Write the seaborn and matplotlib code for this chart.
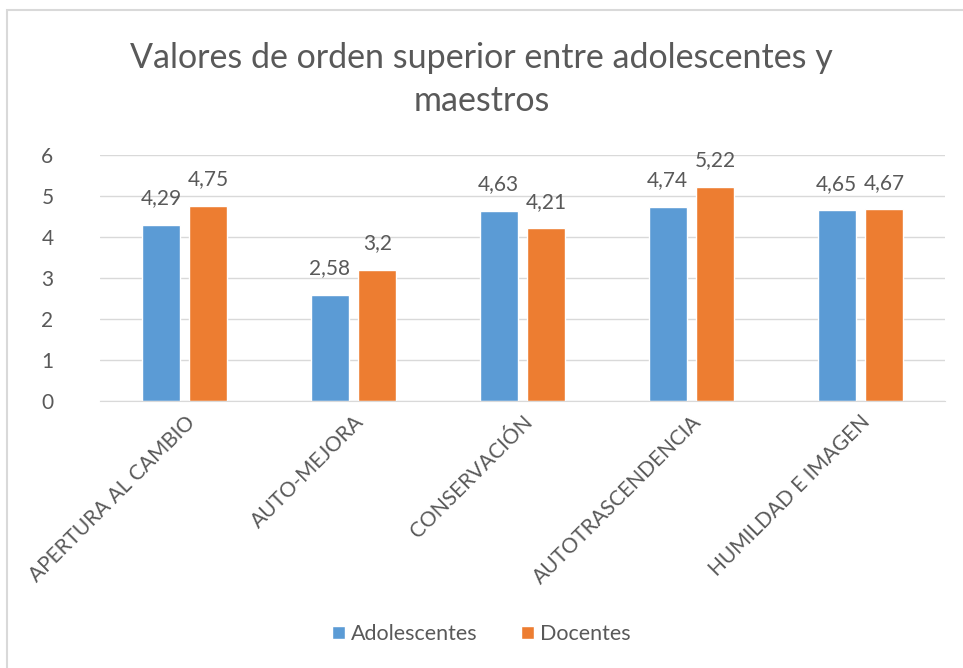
import pandas as pd
import matplotlib.pyplot as plt
import seaborn as sns
from matplotlib.patches import Rectangle

categorias = ['APERTURA AL CAMBIO', 'AUTO-MEJORA', 'CONSERVACIÓN',
              'AUTOTRASCENDENCIA', 'HUMILDAD E IMAGEN']
adolescentes = [4.29, 2.58, 4.63, 4.74, 4.65]
docentes = [4.75, 3.2, 4.21, 5.22, 4.67]
grupos = ['Adolescentes', 'Docentes']

df = pd.DataFrame({'categoria': categorias * 2,
                   'valor': adolescentes + docentes,
                   'grupo': [grupos[0]] * 5 + [grupos[1]] * 5})

sns.set_style('white')
plt.rcParams['font.family'] = ['Lato', 'DejaVu Sans']
gris = '#595959'

fig = plt.figure(figsize=(9.63, 6.68), dpi=100)
ax = fig.add_axes([0.104, 0.400, 0.877, 0.368])

g = sns.barplot(data=df, x='categoria', y='valor', hue='grupo', ax=ax,
                palette=['#5B9BD5', '#ED7D31'], width=0.56, gap=0.2,
                saturation=1, legend=True)

for cont in g.containers:
    g.bar_label(cont, labels=[f'{v:g}'.replace('.', ',') for v in cont.datavalues],
                padding=12, fontsize=15, color=gris)

ax.set_ylim(0, 6)
ax.set_yticks(range(7))
ax.yaxis.grid(True, color='#D9D9D9', linewidth=1)
ax.set_axisbelow(True)
for s in ['top', 'right', 'left']:
    ax.spines[s].set_visible(False)
ax.spines['bottom'].set_color('#D9D9D9')
ax.tick_params(axis='y', length=0, labelsize=15, labelcolor=gris, pad=38)
ax.tick_params(axis='x', length=0, labelsize=15, labelcolor=gris, pad=8)
plt.setp(ax.get_yticklabels(), ha='center')
plt.setp(ax.get_xticklabels(), rotation=45, ha='right', rotation_mode='anchor')
ax.set_xlabel('')
ax.set_ylabel('')

ax.legend(loc='center', bbox_to_anchor=(0.5, 0.051), bbox_transform=fig.transFigure,
          ncol=2, frameon=False, fontsize=15.5, labelcolor=gris,
          handlelength=0.6, handleheight=0.6, handletextpad=0.3, columnspacing=2.0)

fig.text(0.5, 0.913, 'Valores de orden superior entre adolescentes y', ha='center',
         va='center', fontsize=24.5, color=gris)
fig.text(0.5, 0.849, 'maestros', ha='center', va='center', fontsize=24.5, color=gris)

fig.patches.append(Rectangle((7 / 963, -0.1), 1.1, 1 - 10 / 668 + 0.1,
                             transform=fig.transFigure, fill=False,
                             edgecolor='#D9D9D9', linewidth=1.5))

plt.savefig('out.png', dpi=100)
